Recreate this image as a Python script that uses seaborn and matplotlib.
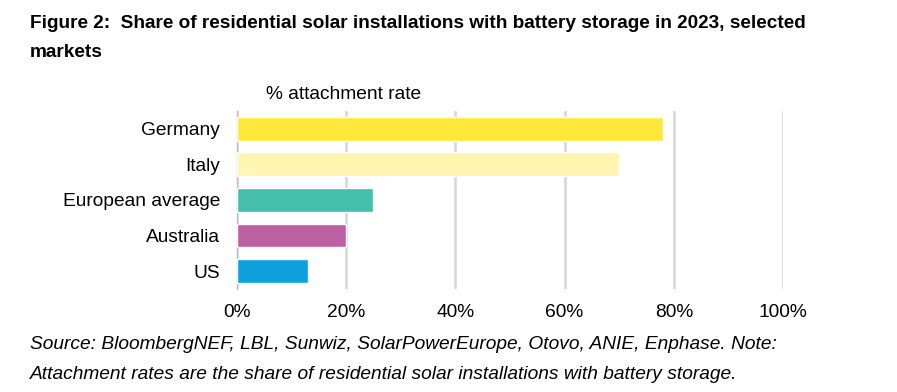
import matplotlib
matplotlib.use("Agg")
import pandas as pd
import matplotlib.pyplot as plt
import seaborn as sns

# Data
markets = ["Germany", "Italy", "European average", "Australia", "US"]
attach_rate = [78, 70, 25, 20, 13]
bar_colors = ["#FFE83A", "#FFF5B0", "#45BFAD", "#BD5FA3", "#0E9FDD"]
x_ticks = [0, 20, 40, 60, 80, 100]

df = pd.DataFrame({"market": markets, "rate": attach_rate})

sns.set_style("white")
plt.rcParams["font.family"] = ["Liberation Sans", "DejaVu Sans"]
plt.rcParams["text.color"] = "black"

fig = plt.figure(figsize=(8.97, 3.92), dpi=100)
ax = fig.add_axes([0.264, 0.263, 0.609, 0.454])

sns.barplot(data=df, y="market", x="rate", hue="market", palette=bar_colors,
            legend=False, width=0.67, saturation=1, ax=ax, zorder=3)

ax.set_xlim(0, 100)
ax.set_xticks(x_ticks)
ax.set_xticklabels([f"{t}%" for t in x_ticks])
ax.xaxis.grid(True, color="#D9D9D9", linewidth=2, zorder=0)
ax.set_axisbelow(True)
ax.set_xlabel("")
ax.set_ylabel("")
for s in ["top", "right", "bottom"]:
    ax.spines[s].set_visible(False)
ax.spines["left"].set_color("#BFBFBF")
ax.spines["left"].set_linewidth(1)
ax.tick_params(axis="both", length=0, labelsize=13.8, colors="black")
ax.tick_params(axis="y", pad=12)
ax.tick_params(axis="x", pad=11)

fig.text(0.033, 0.94, "Figure 2:  Share of residential solar installations with battery storage in 2023, selected",
         fontsize=13.7, fontweight="bold", va="center")
fig.text(0.033, 0.867, "markets", fontsize=13.7, fontweight="bold", va="center")
fig.text(0.296, 0.76, "% attachment rate", fontsize=13.8, va="center")
fig.text(0.033, 0.12, "Source: BloombergNEF, LBL, Sunwiz, SolarPowerEurope, Otovo, ANIE, Enphase. Note:",
         fontsize=13.8, style="italic", va="center")
fig.text(0.033, 0.045, "Attachment rates are the share of residential solar installations with battery storage.",
         fontsize=13.8, style="italic", va="center")

plt.savefig("out.png", dpi=100)
